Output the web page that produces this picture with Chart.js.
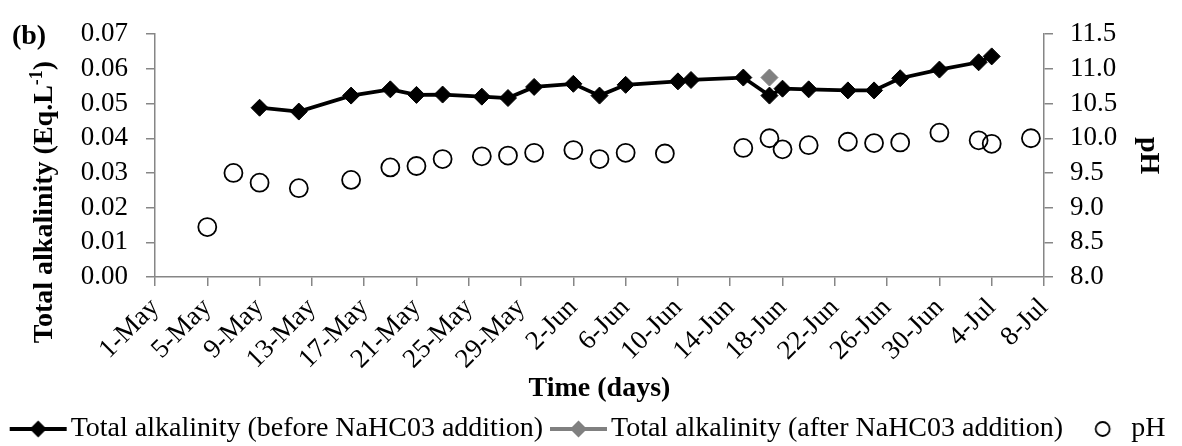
<!DOCTYPE html>
<html>
<head>
<meta charset="utf-8">
<title>Total alkalinity and pH</title>
<script src="https://cdn.jsdelivr.net/npm/chart.js@4.4.1/dist/chart.umd.min.js"></script>
<style>
  html, body { margin: 0; padding: 0; background: #fff; }
  #wrap { width: 1182px; height: 446px; position: relative; }
</style>
</head>
<body>
<div id="wrap"><canvas id="alkChart"></canvas></div>
<script>
// sampling dates and measurements
var alkDates = ['9-May', '12-May', '16-May', '19-May', '21-May', '23-May', '26-May', '28-May',
    '30-May', '2-Jun', '4-Jun', '6-Jun', '10-Jun', '11-Jun', '15-Jun', '17-Jun', '18-Jun',
    '20-Jun', '23-Jun', '25-Jun', '27-Jun', '30-Jun', '3-Jul', '4-Jul'];
var alkValues = [0.0488, 0.0477, 0.0523, 0.0541, 0.0525, 0.0526, 0.0520, 0.0516,
    0.0548, 0.0557, 0.0523, 0.0554, 0.0564, 0.0568, 0.0575, 0.0523, 0.0543,
    0.0541, 0.0538, 0.0538, 0.0573, 0.0598, 0.0619, 0.0636];

var addDates = ['17-Jun'];
var addValues = [0.0575];

var phDates = ['5-May', '7-May', '9-May', '12-May', '16-May', '19-May', '21-May', '23-May',
    '26-May', '28-May', '30-May', '2-Jun', '4-Jun', '6-Jun', '9-Jun', '15-Jun', '17-Jun',
    '18-Jun', '20-Jun', '23-Jun', '25-Jun', '27-Jun', '30-Jun', '3-Jul', '4-Jul', '7-Jul'];
var phValues = [8.72, 9.50, 9.36, 9.28, 9.40, 9.58, 9.60, 9.70,
    9.74, 9.75, 9.79, 9.83, 9.70, 9.79, 9.78, 9.86, 10.00,
    9.84, 9.90, 9.95, 9.93, 9.94, 10.08, 9.97, 9.92, 10.00];

// one label every 4 days starting 1-May
var xTickLabels = ['1-May', '5-May', '9-May', '13-May', '17-May', '21-May', '25-May', '29-May',
    '2-Jun', '6-Jun', '10-Jun', '14-Jun', '18-Jun', '22-Jun', '26-Jun', '30-Jun', '4-Jul', '8-Jul'];

var SERIF = '"Liberation Serif", "Times New Roman", serif';
var AXIS_GREY = '#868686';

// days since 1-May
var monthStart = { May: 0, Jun: 31, Jul: 61 };
function dayOf(label) {
    var p = label.split('-');
    return monthStart[p[1]] + Number(p[0]) - 1;
}
function toPoints(dates, values) {
    return dates.map(function (d, i) { return { x: dayOf(d), y: values[i] }; });
}

// legend symbols: short line with a marker, or a lone circle
function legendIcon(kind, color) {
    var c = document.createElement('canvas');
    c.width = 80; c.height = 22;
    var g = c.getContext('2d');
    var cy = 11;
    if (kind === 'line') {
        g.strokeStyle = color;
        g.lineWidth = 4;
        g.beginPath(); g.moveTo(13, cy); g.lineTo(70, cy); g.stroke();
        g.fillStyle = color;
        g.beginPath();
        g.moveTo(41.5 - 8.5, cy); g.lineTo(41.5, cy - 8.5);
        g.lineTo(41.5 + 8.5, cy); g.lineTo(41.5, cy + 8.5);
        g.closePath(); g.fill();
    } else {
        g.strokeStyle = color;
        g.lineWidth = 1.8;
        g.beginPath(); g.arc(45.5, cy, 7, 0, Math.PI * 2); g.stroke();
    }
    return c;
}
var legendIcons = [legendIcon('line', '#000'), legendIcon('line', '#808080'), legendIcon('circle', '#000')];

// axis titles and panel tag
var titlesPlugin = {
    id: 'titles',
    afterDraw: function (chart) {
        var ctx = chart.ctx;
        var area = chart.chartArea;
        ctx.save();
        ctx.fillStyle = '#000';
        ctx.font = 'bold 28px ' + SERIF;
        ctx.textBaseline = 'middle';
        ctx.textAlign = 'center';
        ctx.fillText('(b)', 29, 37);
        ctx.fillText('Time (days)', (area.left + area.right) / 2, 389);

        // right axis
        ctx.save();
        ctx.translate(1148, (area.top + area.bottom) / 2);
        ctx.rotate(Math.PI / 2);
        ctx.fillText('pH', 0, 0);
        ctx.restore();

        // left axis, with superscript -1
        var main = 'Total alkalinity (Eq.L', sup = '-1', tail = ')';
        var supFont = 'bold 18px ' + SERIF;
        var wMain = ctx.measureText(main).width;
        var wTail = ctx.measureText(tail).width;
        ctx.font = supFont;
        var wSup = ctx.measureText(sup).width;
        var total = wMain + wSup + wTail;
        ctx.translate(45, 202);
        ctx.rotate(-Math.PI / 2);
        ctx.textAlign = 'left';
        ctx.font = 'bold 28px ' + SERIF;
        ctx.fillText(main, -total / 2, 0);
        ctx.font = supFont;
        ctx.fillText(sup, -total / 2 + wMain, -8);
        ctx.font = 'bold 28px ' + SERIF;
        ctx.fillText(tail, -total / 2 + wMain + wSup, 0);
        ctx.restore();
    }
};

Chart.defaults.font.family = SERIF;
Chart.defaults.font.size = 27;
Chart.defaults.color = '#000';

var ctx = document.getElementById('alkChart').getContext('2d');
var alkChart = new Chart(ctx, {
    type: 'line',
    data: {
        datasets: [{
            label: 'Total alkalinity (before NaHC03 addition)',
            data: toPoints(alkDates, alkValues),
            yAxisID: 'y',
            borderColor: '#000',
            backgroundColor: '#000',
            borderWidth: 3.75,
            pointStyle: 'rectRot',
            pointRadius: 8.5,
            pointBorderWidth: 1,
            order: 2
        }, {
            label: 'Total alkalinity (after NaHC03 addition)',
            data: toPoints(addDates, addValues),
            yAxisID: 'y',
            borderColor: '#808080',
            backgroundColor: '#808080',
            borderWidth: 3.75,
            pointStyle: 'rectRot',
            pointRadius: 8.5,
            pointBorderWidth: 1,
            order: 0
        }, {
            label: 'pH',
            data: toPoints(phDates, phValues),
            yAxisID: 'y1',
            showLine: false,
            borderColor: '#000',
            backgroundColor: 'rgba(0,0,0,0)',
            pointStyle: 'circle',
            pointRadius: 9,
            pointBorderWidth: 1.8,
            order: 1
        }]
    },
    options: {
        responsive: true,
        maintainAspectRatio: false,
        animation: false,
        layout: { padding: { top: 23, left: 0, right: 0, bottom: -7 } },
        scales: {
            x: {
                type: 'linear',
                min: 0,
                max: 68,
                afterFit: function (scale) { scale.height = 124; },
                ticks: {
                    stepSize: 4,
                    autoSkip: false,
                    maxRotation: 45,
                    minRotation: 45,
                    padding: 6,
                    callback: function (v) { return xTickLabels[v / 4]; }
                },
                grid: { drawOnChartArea: false, tickLength: 9, color: AXIS_GREY, lineWidth: 1.5 },
                border: { color: AXIS_GREY, width: 1.5 }
            },
            y: {
                position: 'left',
                min: 0,
                max: 0.07,
                afterFit: function (scale) { scale.width = 155; },
                ticks: {
                    stepSize: 0.01,
                    autoSkip: false,
                    padding: 18,
                    callback: function (v) { return v.toFixed(2); }
                },
                grid: { drawOnChartArea: false, tickLength: 9, color: AXIS_GREY, lineWidth: 1.5 },
                border: { color: AXIS_GREY, width: 1.5 }
            },
            y1: {
                position: 'right',
                min: 8,
                max: 11.5,
                afterFit: function (scale) { scale.width = 138; },
                ticks: {
                    stepSize: 0.5,
                    autoSkip: false,
                    padding: 17,
                    callback: function (v) { return v.toFixed(1); }
                },
                grid: { drawOnChartArea: false, tickLength: 9, color: AXIS_GREY, lineWidth: 1.5 },
                border: { color: AXIS_GREY, width: 1.5 }
            }
        },
        plugins: {
            legend: {
                position: 'bottom',
                labels: {
                    usePointStyle: true,
                    pointStyleWidth: 40,
                    padding: 14,
                    font: { size: 28 },
                    sort: function (a, b) { return a.datasetIndex - b.datasetIndex; },
                    generateLabels: function (chart) {
                        var items = Chart.defaults.plugins.legend.labels.generateLabels(chart);
                        items.forEach(function (item) {
                            item.pointStyle = legendIcons[item.datasetIndex];
                        });
                        return items;
                    }
                }
            },
            tooltip: { enabled: false }
        }
    },
    plugins: [titlesPlugin]
});
</script>
</body>
</html>
